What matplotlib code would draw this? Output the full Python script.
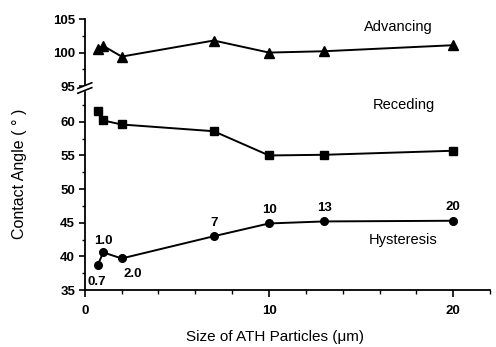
import matplotlib
matplotlib.use("Agg")
import matplotlib.pyplot as plt
from matplotlib.ticker import MultipleLocator, FixedLocator

plt.rcParams['font.family'] = ['Liberation Sans', 'DejaVu Sans']

size = [0.7, 1.0, 2.0, 7, 10, 13, 20]
advancing = [100.6, 101.0, 99.4, 101.8, 100.0, 100.2, 101.1]
receding = [61.6, 60.2, 59.6, 58.6, 55.0, 55.1, 55.7]
hysteresis = [38.7, 40.6, 39.7, 43.0, 44.9, 45.2, 45.3]
size_labels = ["0.7", "1.0", "2.0", "7", "10", "13", "20"]
label_offsets = [(-1, -12), (0, 8.5), (8, -11), (0, 9.5), (0, 9.5), (0, 10), (0, 10)]

fig = plt.figure(figsize=(4.96, 3.47), dpi=100)
L, R = 0.171, 0.988
ax_top = fig.add_axes([L, 0.752, R - L, 0.945 - 0.752])
ax_bot = fig.add_axes([L, 0.164, R - L, 0.746 - 0.164])

TICK_FS = 9.5

for ax in (ax_top, ax_bot):
    ax.set_xlim(0, 22)
    ax.spines['top'].set_visible(False)
    ax.spines['right'].set_visible(False)
    ax.spines['left'].set_linewidth(1.3)
    ax.spines['bottom'].set_linewidth(1.3)
    ax.patch.set_alpha(0)
    ax.yaxis.set_minor_locator(MultipleLocator(2.5))
    ax.tick_params(axis='y', which='major', direction='out', length=4, width=1.2,
                   labelsize=TICK_FS, pad=3)
    ax.tick_params(axis='y', which='minor', direction='out', length=2.5, width=1)

ax_top.set_ylim(95, 105)
ax_top.yaxis.set_major_locator(FixedLocator([95, 100, 105]))
ax_top.spines['bottom'].set_visible(False)
ax_top.tick_params(axis='x', which='both', bottom=False, labelbottom=False)

ax_bot.set_ylim(35, 65)
ax_bot.yaxis.set_major_locator(FixedLocator([35, 40, 45, 50, 55, 60]))
ax_bot.xaxis.set_major_locator(FixedLocator([0, 10, 20]))
ax_bot.xaxis.set_minor_locator(MultipleLocator(2))
ax_bot.tick_params(axis='x', which='major', direction='out', length=5, width=1.2,
                   labelsize=TICK_FS, pad=6)
ax_bot.tick_params(axis='x', which='minor', direction='out', length=3, width=1)
for t in ax_bot.get_xticklabels():
    t.set_fontweight('bold')
for ax in (ax_top, ax_bot):
    for t in ax.get_yticklabels():
        t.set_fontweight('bold')

ax_top.plot(size, advancing, color='black', lw=1.4, marker='^', ms=6.5, clip_on=False)
ax_bot.plot(size, receding, color='black', lw=1.4, marker='s', ms=5.5, clip_on=False)
ax_bot.plot(size, hysteresis, color='black', lw=1.4, marker='o', ms=5.5, clip_on=False)

for x, y, s, off in zip(size, hysteresis, size_labels, label_offsets):
    ax_bot.annotate(s, (x, y), xytext=off, textcoords='offset points',
                    ha='center', va='center', fontsize=TICK_FS, fontweight='bold')

ax_top.text(17.0, 103.8, "Advancing", ha='center', va='center', fontsize=10.5)
ax_bot.text(17.3, 62.5, "Receding", ha='center', va='center', fontsize=10.5)
ax_bot.text(17.3, 42.5, "Hysteresis", ha='center', va='center', fontsize=10.5)

fig.text(0.555, 0.03, "Size of ATH Particles (μm)", ha='center', va='center',
         fontsize=11)
fig.text(0.04, 0.50, "Contact Angle ( ° )", rotation=90, ha='center', va='center',
         fontsize=11.5)

# axis break marks
y_break = 1 - 88 / 347
xb = L
fig.add_artist(plt.Rectangle((xb - 0.005, y_break - 0.007), 0.010, 0.014,
                             color='white', transform=fig.transFigure, zorder=5))
for dy in (-0.007, 0.007):
    fig.add_artist(plt.Line2D([xb - 0.014, xb + 0.014],
                              [y_break + dy - 0.008, y_break + dy + 0.008],
                              color='black', lw=1.2, transform=fig.transFigure, zorder=6))

fig.savefig("out.png", dpi=100)
